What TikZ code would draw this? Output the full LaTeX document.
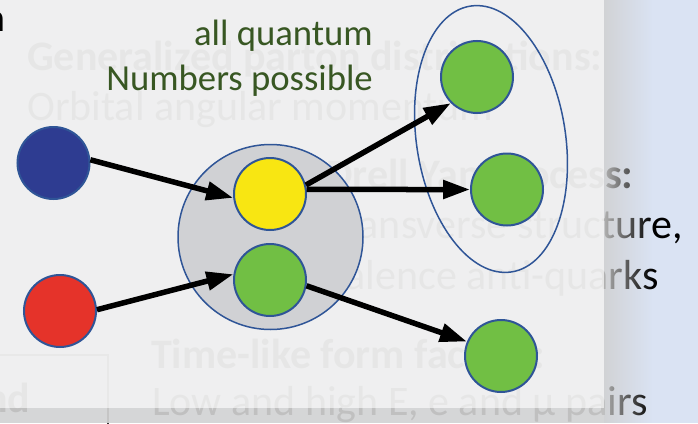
\documentclass[tikz,border=0pt]{standalone}
\usepackage{fontspec}
\setmainfont{Carlito}
\usetikzlibrary{arrows.meta,fadings}
\definecolor{bgblue}{HTML}{DAE3F3}
\definecolor{panelgray}{HTML}{F0F0F0}
\definecolor{stripgray}{HTML}{D5D5D5}
\definecolor{shadowgray}{HTML}{D0D0D0}
\definecolor{edgeblue}{HTML}{2F5597}
\definecolor{dotblue}{HTML}{2E3C91}
\definecolor{dotred}{HTML}{E5332A}
\definecolor{dotyellow}{HTML}{F8E612}
\definecolor{dotgreen}{HTML}{71BF44}
\definecolor{biggray}{HTML}{D0D1D4}
\definecolor{labelgreen}{HTML}{385723}
\tikzfading[name=shadowfade, left color=transparent!15, right color=transparent!100]
\begin{document}
\begin{tikzpicture}[x=1pt,y=-1pt,
  bgtext/.style={anchor=base west, inner sep=0pt, text=black, font=\fontsize{42}{50}\selectfont},
  bgbold/.style={bgtext, font=\fontsize{42}{50}\selectfont\bfseries},
  greenlabel/.style={anchor=base east, inner sep=0pt, text=labelgreen, font=\fontsize{36.7}{44}\selectfont},
  dot/.style={circle, draw=edgeblue, line width=2pt, minimum size=72pt, inner sep=0pt},
  arr/.style={line width=5.5pt, draw=black, -{Triangle[length=27pt,width=18pt]}}]
\useasboundingbox (0,0) rectangle (698,423);
\fill[bgblue] (0,0) rectangle (698,423);
% background slide text (covered by the panel)
\node[bgbold] (g1) at (27,70) {Generalized parton distributions:};
\node[bgtext] (g2) at (27,120) {Orbital angular momentum};
\node[bgbold] (d1) at (326,188) {Drell Yan process:};
\node[bgtext] (d2) at (327,238) {Transverse structure,};
\node[bgtext] (d3) at (327,289) {valence anti-quarks};
\node[bgbold] (f1) at (151,368) {Time-like form factors:};
\node[bgtext] (f2) at (152,415) {Low and high E, e and μ pairs};
\draw[line width=2pt, draw=black!80] (-10,355) rectangle (108,440);
\node[bgbold, anchor=base east] (nd) at (30.5,412) {nd};
% panel and shadows
\fill[panelgray, opacity=0.96] (0,0) rectangle (604,408);
\fill[stripgray, opacity=0.9] (0,408) rectangle (604,423);
\fill[shadowgray, path fading=shadowfade] (604,0) rectangle (652,423);
% title fragment
\node[anchor=base east, inner sep=0pt, font=\fontsize{40}{48}\selectfont] (tn) at (5.5,31) {n};
% label
\node[greenlabel] (l1) at (373,45) {all quantum};
\node[greenlabel] (l2) at (373,90) {Numbers possible};
% diagram
\node[circle, draw=edgeblue, line width=1.5pt, fill=biggray, minimum size=185pt, inner sep=0pt] (big) at (270.5,237) {};
\draw[edgeblue, line width=1.5pt, rotate around={8.8:(491,139)}] (491,139) ellipse [x radius=74.5pt, y radius=134.5pt];
\node[dot, fill=dotblue] (blue) at (53.5,163) {};
\node[dot, fill=dotred] (red) at (60,311) {};
\node[dot, fill=dotyellow] (yellow) at (270,194) {};
\node[dot, fill=dotgreen] (ginner) at (270,280) {};
\node[dot, fill=dotgreen] (gtop) at (477,77) {};
\node[dot, fill=dotgreen] (gmid) at (507,189.5) {};
\node[dot, fill=dotgreen] (gbot) at (501,356) {};
\draw[arr] (blue.5) -- (yellow.186);
\draw[arr] (red.2) -- (ginner.171);
\draw[arr] (ginner.-9) -- (gbot.157);
\draw[arr] (yellow.14) -- (gtop.225);
\draw[arr] (yellow.7) -- (gmid.180);
\end{tikzpicture}
\end{document}
